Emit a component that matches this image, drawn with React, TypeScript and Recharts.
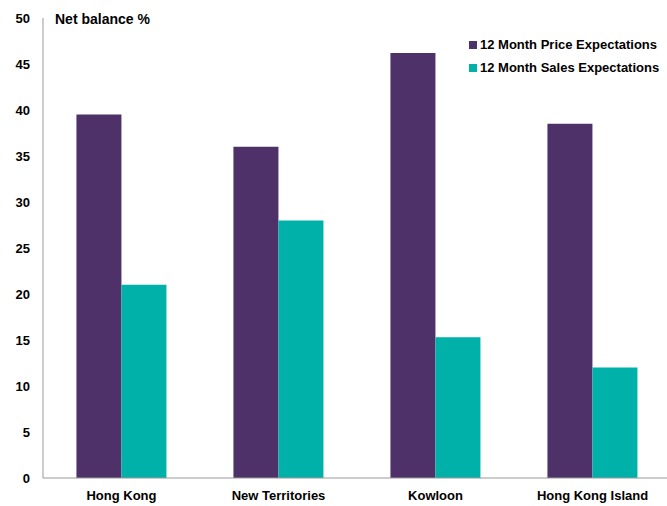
import React from 'react';
import { BarChart, Bar, XAxis, YAxis } from 'recharts';

const regions = ['Hong Kong', 'New Territories', 'Kowloon', 'Hong Kong Island'];
const priceExpectations = [39.5, 36, 46.2, 38.5];
const salesExpectations = [21, 28, 15.3, 12];
const yTicks = [0, 5, 10, 15, 20, 25, 30, 35, 40, 45, 50];
const seriesNames = ['12 Month Price Expectations', '12 Month Sales Expectations'];

const PURPLE = '#4e3168';
const TEAL = '#00b1a9';
const FONT = '"Liberation Sans", Arial, sans-serif';

const data = regions.map((r, i) => ({
    region: r,
    price: priceExpectations[i],
    sales: salesExpectations[i],
}));

const legendItems = [
    { name: seriesNames[0], color: PURPLE },
    { name: seriesNames[1], color: TEAL },
];

const App: React.FC = () => {
    return (
        <div style={{ position: 'absolute', left: 0, top: 0, width: 667, height: 506, overflow: 'hidden', background: '#fff' }}>
            <BarChart
                width={671}
                height={506}
                data={data}
                margin={{ top: 18, right: 0, bottom: 0, left: 0 }}
                barCategoryGap="21.3%"
                barGap={0}
            >
                <XAxis
                    dataKey="region"
                    height={28}
                    axisLine={{ stroke: '#999', strokeWidth: 1 }}
                    tickLine={false}
                    tickSize={5}
                    tickMargin={8}
                    tick={{ fill: '#000', fontSize: 13, fontWeight: 700, fontFamily: FONT }}
                    interval={0}
                />
                <YAxis
                    width={43}
                    domain={[0, 50]}
                    ticks={yTicks}
                    interval={0}
                    axisLine={{ stroke: '#999', strokeWidth: 1 }}
                    tickLine={false}
                    tickSize={8}
                    tickMargin={5}
                    tick={{ fill: '#000', fontSize: 13, fontWeight: 700, fontFamily: FONT }}
                />
                <Bar dataKey="price" name={seriesNames[0]} fill={PURPLE} isAnimationActive={false} />
                <Bar dataKey="sales" name={seriesNames[1]} fill={TEAL} isAnimationActive={false} />
            </BarChart>
            <div style={{ position: 'absolute', left: 55, top: 11, fontFamily: FONT, fontWeight: 700, fontSize: 14, color: '#000' }}>
                Net balance %
            </div>
            <div style={{ position: 'absolute', left: 469, top: 33, fontFamily: FONT, fontWeight: 700, fontSize: 13, color: '#000' }}>
                {legendItems.map(it => (
                    <div key={it.name} style={{ display: 'flex', alignItems: 'center', height: 23 }}>
                        <span style={{ width: 8, height: 8, background: it.color, marginRight: 3, display: 'inline-block' }} />
                        {it.name}
                    </div>
                ))}
            </div>
        </div>
    );
};

export default App;
